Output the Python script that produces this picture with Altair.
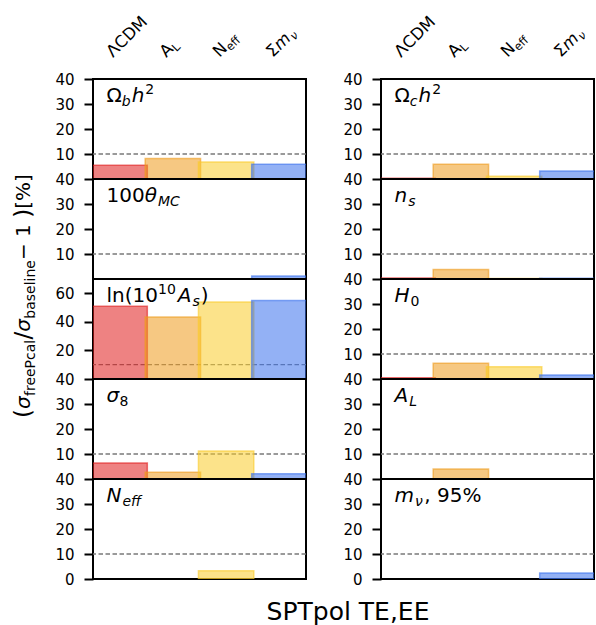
import altair as alt
import pandas as pd

# ---------------- data ----------------
MODELS = ["LCDM", "AL", "Neff", "Mnu"]
COLORS = ["#E01C1C", "#EF9B1C", "#FACC2A", "#3B71ED"]

# values: (sigma_freePcal / sigma_baseline - 1) in %, order = MODELS
ombh2 = [5.5, 8.2, 6.8, 5.9]
omch2 = [0.3, 5.9, 1.1, 3.2]
theta = [None, None, None, 1.2]
ns = [0.4, 3.8, 0.2, 0.3]
logA = [50.9, 43.4, 53.9, 55.0]
H0 = [0.5, 6.3, 4.9, 1.6]
sigma8 = [6.4, 2.7, 11.2, 2.1]
AL = [None, 4.0, None, None]
neff = [None, None, 3.3, None]
mnu = [None, None, None, 2.4]

# ---------------- text helpers ----------------
FONT = "DejaVu Sans"
ADV = {' ': 0.318, '(': 0.390, ')': 0.390, '[': 0.390, ']': 0.390, '%': 0.950,
       ',': 0.318, '/': 0.337, 'A': 0.684, 'C': 0.698, 'D': 0.770, 'E': 0.632,
       'H': 0.752, 'L': 0.557, 'M': 0.863, 'N': 0.748, 'P': 0.603, 'S': 0.635,
       'T': 0.611, 'a': 0.613, 'b': 0.635, 'c': 0.550, 'e': 0.615, 'f': 0.352,
       'h': 0.634, 'i': 0.278, 'l': 0.278, 'm': 0.974, 'n': 0.634, 'o': 0.612,
       'p': 0.635, 'r': 0.411, 's': 0.521, 'Λ': 0.684, 'Σ': 0.632, 'Ω': 0.764,
       'σ': 0.602, 'θ': 0.612, 'ν': 0.592, '−': 0.838}
for d in "0123456789":
    ADV[d] = 0.636

ONE = pd.DataFrame({"k": [0]})


def text_width(t, size):
    return sum(ADV.get(c, 0.6) for c in t) * size


def piece(txt, ital, size, x, y, angle=0, dx=0, dy=0, xdatum=None, xscale=None):
    enc = {"text": alt.value(txt), "y": alt.value(y)}
    if xdatum is not None:
        enc["x"] = alt.X(datum=xdatum, type="quantitative", scale=xscale)
    else:
        enc["x"] = alt.value(x)
    return alt.Chart(ONE).mark_text(
        align="left", baseline="alphabetic", font=FONT, fontSize=size,
        fontStyle="italic" if ital else "normal", angle=angle,
        dx=dx, dy=dy, color="black").encode(**enc)


def compose(pieces, x=None, y=0, angle=0, off=(0, 0), xdatum=None, xscale=None):
    layers = []
    cum = 0.0
    for txt, ital, size, shift in pieces:
        layers.append(piece(txt, ital, size, x, y, angle, cum + off[0], shift + off[1], xdatum, xscale))
        cum += text_width(txt, size) + (1.0 if ital else 0.0)
    return layers


def compose_vertical(pieces, x, y):
    """text rotated 270 deg, reading bottom to top; absolute positions per piece"""
    layers = []
    cum = 0.0
    for txt, ital, size, shift in pieces:
        layers.append(piece(txt, ital, size, x + shift, y - cum, angle=270))
        cum += text_width(txt, size) + (1.0 if ital else 0.0)
    return layers


F, S = 20, 14  # panel label font / sub font
SUB, SUP = 4, -8

LABELS = {
    "ombh2": [("Ω", False, F, 0), ("b", True, S, SUB), ("h", True, F, 0), ("2", False, S, SUP)],
    "omch2": [("Ω", False, F, 0), ("c", True, S, SUB), ("h", True, F, 0), ("2", False, S, SUP)],
    "theta": [("100", False, F, 0), ("θ", True, F, 0), ("MC", True, S, SUB)],
    "ns": [("n", True, F, 0), ("s", True, S, SUB)],
    "logA": [("ln(10", False, F, 0), ("10", False, S, SUP), (" ", False, 6, 0),
             ("A", True, F, 0), ("s", True, S, SUB), (")", False, F, 0)],
    "H0": [("H", True, F, 0), ("0", False, S, SUB)],
    "sigma8": [("σ", True, F, 0), ("8", False, S, SUB)],
    "AL": [("A", True, F, 0), ("L", True, S, SUB)],
    "neff": [("N", True, F, 0), ("eff", True, S, SUB)],
    "mnu": [("m", True, F, 0), ("ν", True, S, SUB), (", 95%", False, F, 0)],
}

CF, CS = 16.5, 11.5
COL_LABELS = [
    [("ΛCDM", False, CF, 0)],
    [("A", False, CF, 0), ("L", False, CS, 3)],
    [("N", False, CF, 0), ("eff", False, CS, 3)],
    [("Σ", False, CF, 0), ("m", True, CF, 0), ("ν", True, CS, 3)],
]

YT, YS = 20, 14
YTITLE = [("(", False, 23, 1), ("σ", True, YT, 0), ("freePcal", False, YS, 5),
          ("/", False, 23, 1), ("σ", True, YT, 0), ("baseline", False, YS, 5),
          (" − 1", False, YT, 0), (")", False, 23, 1), ("  [%]", False, YT, 0)]

W, H = 213, 100
HALF = 0.52
XS = alt.Scale(domain=[-0.5, 3.5], nice=False, zero=False)


def panel(key, vals, ymax, yvalues, extras=()):
    df = pd.DataFrame({"model": MODELS, "idx": list(range(4)), "val": vals}).dropna()
    df["x0"] = df["idx"] - HALF
    df["x1"] = df["idx"] + HALF
    ys = alt.Scale(domain=[0, ymax], nice=False, zero=True)
    ax = alt.Axis(values=yvalues, title=None, labelFontSize=15, labelFont=FONT,
                  tickSize=9, tickWidth=2, labelPadding=10, domain=False,
                  labelOverlap=False, grid=False, tickColor="black",
                  labelColor="black")
    bars = alt.Chart(df).mark_rect(clip=True, fillOpacity=0.55, strokeOpacity=0.6, strokeWidth=1.5).encode(
        x=alt.X("x0:Q", scale=XS, axis=None),
        x2="x1:Q",
        y=alt.Y("val:Q", scale=ys, axis=ax),
        y2=alt.Y2(datum=0),
        fill=alt.Fill("model:N", scale=alt.Scale(domain=MODELS, range=COLORS), legend=None),
        stroke=alt.Stroke("model:N", scale=alt.Scale(domain=MODELS, range=COLORS), legend=None),
    )
    rule = alt.Chart(ONE).mark_rule(color="#7a7a7a", strokeDash=[4.5, 2.5], strokeWidth=1.3).encode(
        y=alt.Y(datum=10, type="quantitative", scale=ys, axis=ax)
    )
    texts = compose(LABELS[key], x=13.5, y=23)
    return alt.layer(rule, bars, *texts, *extras).properties(width=W, height=H)


def col_labels():
    out = []
    for i, pcs in enumerate(COL_LABELS):
        out += compose(pcs, y=-21, angle=315, off=(-4.6, -4.6), xdatum=i, xscale=XS)
    return out


anchor = alt.Chart(ONE).mark_rect(opacity=0).encode(
    x=alt.value(-92), x2=alt.value(-91), y=alt.value(-78), y2=alt.value(-77))

# y title placed in the top-left panel (origin of the whole figure known there)
ytitle = compose_vertical(YTITLE, x=-63, y=339)
xtitle = alt.Chart(ONE).mark_text(font=FONT, fontSize=25, align="center", baseline="alphabetic",
                                  color="black").encode(
    x=alt.value(255), y=alt.value(141), text=alt.value("SPTpol TE,EE"))

T40 = [10, 20, 30, 40]
T40b = [0, 10, 20, 30, 40]

panels = [
    panel("ombh2", ombh2, 40, T40, [anchor] + col_labels() + ytitle),
    panel("omch2", omch2, 40, T40, col_labels()),
    panel("theta", theta, 40, T40), panel("ns", ns, 40, T40),
    panel("logA", logA, 70, [20, 40, 60]), panel("H0", H0, 40, T40),
    panel("sigma8", sigma8, 40, T40), panel("AL", AL, 40, T40),
    panel("neff", neff, 40, T40b, [xtitle]), panel("mnu", mnu, 40, T40b),
]

chart = alt.concat(*panels, columns=2, spacing={"row": 0, "column": 75}, bounds="flush").resolve_scale(
    x="independent", y="independent", fill="independent", stroke="independent"
).properties(padding=0, background="white").configure_view(
    stroke="black", strokeWidth=2
)

chart.save("out.html", embed_options={"renderer": "svg", "actions": False})
